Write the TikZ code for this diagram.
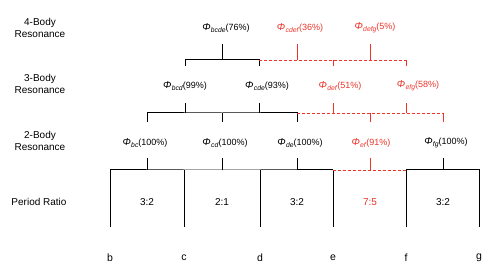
\documentclass[tikz,border=0pt]{standalone}
\usepackage{fontspec}
\setmainfont{Liberation Sans}
\definecolor{myred}{RGB}{236,52,42}
\newcommand\philab[2]{{\fontsize{10}{11}\selectfont\textit{Φ}}\kern0.3pt\raisebox{-1.6pt}{\fontsize{6.8}{8}\selectfont\textit{#1}}(#2\%)}
\begin{document}
\begin{tikzpicture}[x=1pt,y=-1pt,
  lbl/.style={font=\fontsize{9}{11}\selectfont, inner sep=0pt},
  side/.style={font=\fontsize{10}{12.5}\selectfont, align=center, inner sep=0pt},
  ratio/.style={font=\fontsize{10}{12}\selectfont, inner sep=0pt},
  letter/.style={font=\fontsize{10.5}{12}\selectfont, inner sep=0pt},
  blk/.style={draw=black, line width=1pt},
  rdd/.style={draw=myred, line width=0.9pt, dash pattern=on 2.5pt off 2.5pt},
  rds/.style={draw=myred, line width=0.9pt}]
\useasboundingbox (0,0) rectangle (498,280);
% side labels
\node[side] (s4) at (40,28) {4-Body\\Resonance};
\node[side] (s3) at (40,84) {3-Body\\Resonance};
\node[side] (s2) at (40,141) {2-Body\\Resonance};
\node[side] (s1) at (39,202) {Period Ratio};
% letters
\foreach \n/\x in {b/110,c/184,d/260,e/333,f/406,g/479}{
  \coordinate (top\n) at (\x,170);
  \coordinate (bot\n) at (\x,227);
  \node[letter] (L\n) at (\x,258) {\n};
}
% period level
\draw[blk] (botb) -- (topb) -- (topc) -- (topd) -- (tope);
\draw[blk] (topc) -- (botc);
\draw[blk] (topd) -- (botd);
\draw[blk] (tope) -- (bote);
\draw[blk] (botf) -- (topf) -- (topg) -- (botg);
\draw[rdd] (tope) -- (topf);
% 2-body stems
\foreach \n/\x in {bc/147,cd/222,de/297,ef/370,fg/443}{
  \coordinate (m\n) at (\x,170);
  \coordinate (t\n) at (\x,158);
  \coordinate (u\n) at (\x,113);
  \coordinate (v\n) at (\x,122);
}
\foreach \n in {bc,cd,de,fg}{\draw[blk] (m\n) -- (t\n);}
\draw[rds] (mef) -- (tef);
% ratios
\node[ratio] (r1) at (147,202) {3:2};
\node[ratio] (r2) at (222,202) {2:1};
\node[ratio] (r3) at (297,202) {3:2};
\node[ratio,text=myred] (r4) at (370,202) {7:5};
\node[ratio] (r5) at (443,202) {3:2};
% 2-body labels
\node[lbl] (pbc) at (145,143) {\philab{bc}{100}};
\node[lbl] (pcd) at (225,143) {\philab{cd}{100}};
\node[lbl] (pde) at (300,143) {\philab{de}{100}};
\node[lbl,text=myred] (pef) at (371,143) {\philab{ef}{91}};
\node[lbl] (pfg) at (446,143) {\philab{fg}{100}};
% 3-body level
\foreach \n/\x in {bcd/185,cde/259,def/333,efg/406}{
  \coordinate (m\n) at (\x,113);
  \coordinate (t\n) at (\x,103);
  \coordinate (u\n) at (\x,60);
  \coordinate (v\n) at (\x,66);
}
\draw[blk] (vbc) -- (ubc) -- (ucd) -- (ude) -- (vde);
\draw[blk] (ucd) -- (vcd);
\draw[rdd] (ude) -- (uef) -- (ufg);
\draw[rds] (uef) -- (vef);
\draw[rds] (ufg) -- (vfg);
\draw[blk] (mbcd) -- (tbcd);
\draw[blk] (mcde) -- (tcde);
\draw[rds] (mdef) -- (tdef);
\draw[rds] (mefg) -- (tefg);
\node[lbl] (pbcd) at (185,86) {\philab{bcd}{99}};
\node[lbl] (pcde) at (267,86) {\philab{cde}{93}};
\node[lbl,text=myred] (pdef) at (340,86) {\philab{def}{51}};
\node[lbl,text=myred] (pefg) at (418,86) {\philab{efg}{58}};
% 4-body level
\foreach \n/\x in {bcde/222,cdef/297,defg/370}{
  \coordinate (m\n) at (\x,60);
  \coordinate (t\n) at (\x,44);
}
\draw[blk] (vbcd) -- (ubcd) -- (ucde) -- (vcde);
\draw[rdd] (ucde) -- (udef) -- (uefg);
\draw[rds] (udef) -- (vdef);
\draw[rds] (uefg) -- (vefg);
\draw[blk] (mbcde) -- (tbcde);
\draw[rds] (mcdef) -- (tcdef);
\draw[rds] (mdefg) -- (tdefg);
\node[lbl] (pbcde) at (226,28) {\philab{bcde}{76}};
\node[lbl,text=myred] (pcdef) at (300,28) {\philab{cdef}{36}};
\node[lbl,text=myred] (pdefg) at (375,28) {\philab{defg}{5}};
\end{tikzpicture}
\end{document}
